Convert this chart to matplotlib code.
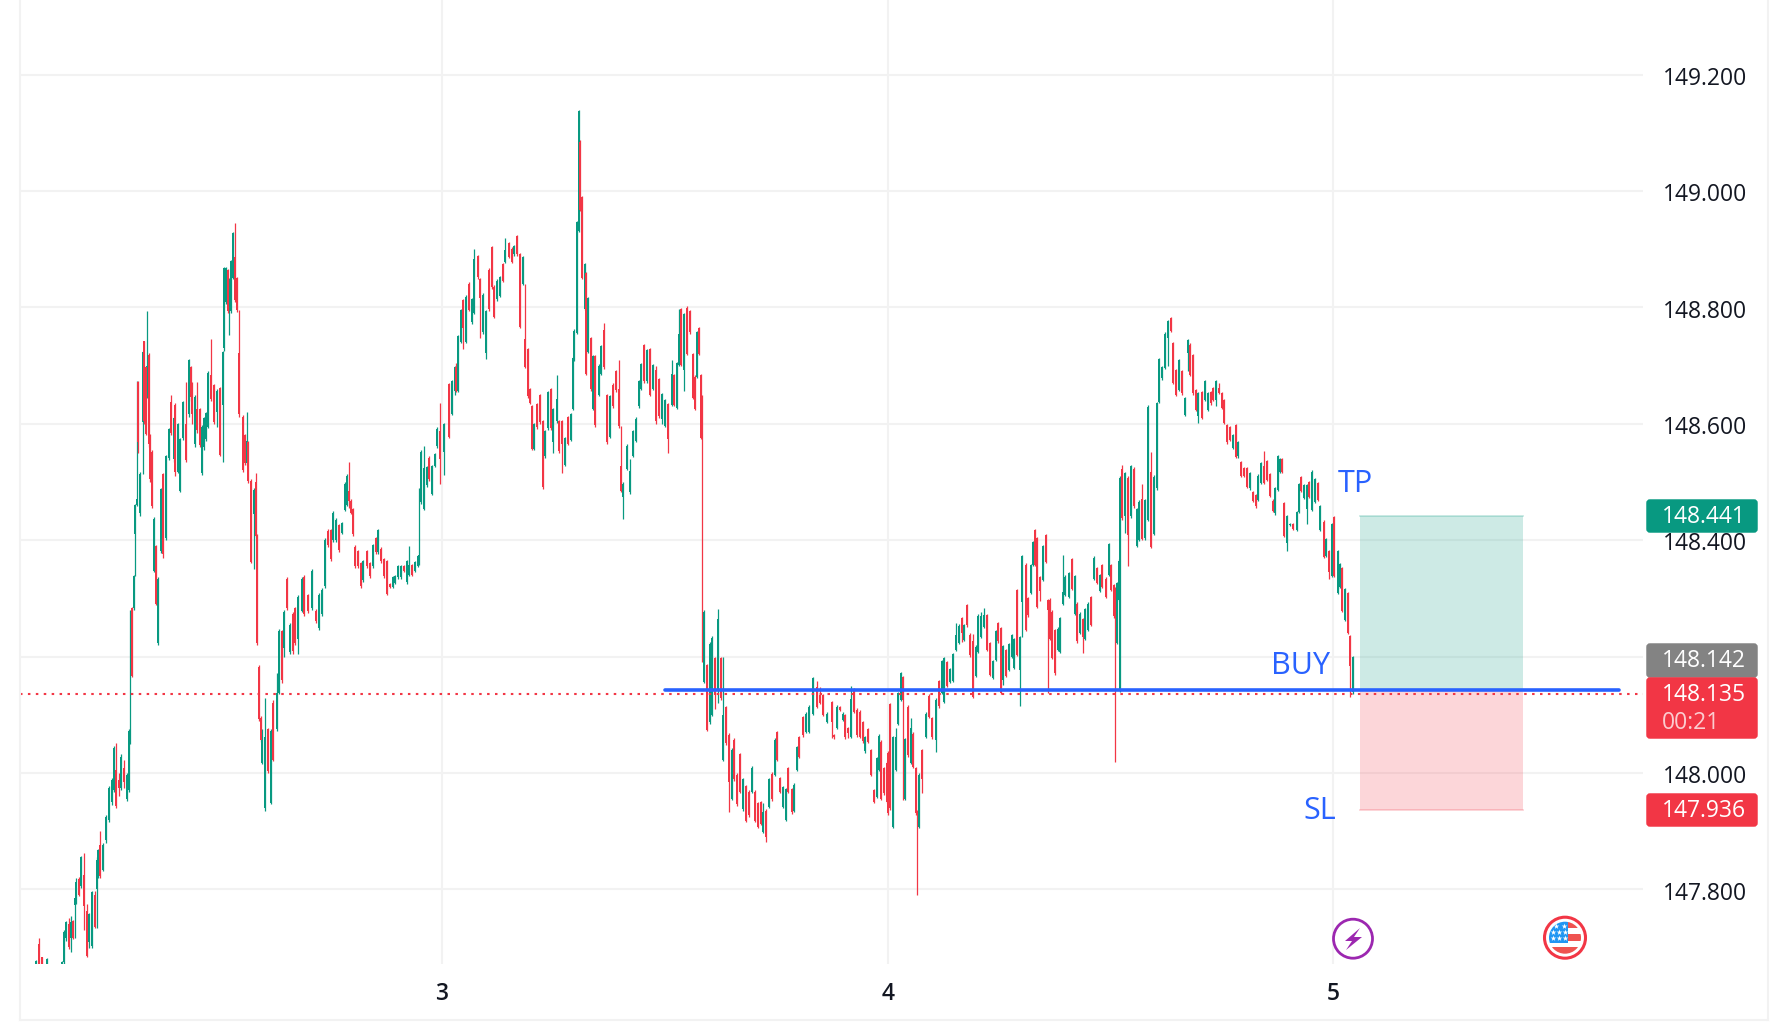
import matplotlib
matplotlib.use("Agg")
import matplotlib.pyplot as plt
import numpy as np
from matplotlib.patches import Circle, FancyBboxPatch, Polygon, Rectangle
from matplotlib.transforms import ScaledTranslation

plt.rcParams['font.family'] = ['Open Sans', 'DejaVu Sans']

# bar number on the time axis, prices are in thousandths above 147
BASE = 147.0
times = [
    36,39,42,47,53,62,64,66,69,71, 73,75,76,79,81,84,87,89,92,95,
    97,98,100,103,106,109,112,114,116,119, 121,124,127,129,130,132,134,135,137,138,
    140,143,144,146,147,149,150,152,154,156, 158,161,163,166,169,171,174,175,178,180,
    183,186,189,191,192,195,197,200,202,204, 206,208,211,214,217,220,223,224,226,228,
    229,231,233,235,237,239,243,245,247,248, 251,254,256,257,259,261,262,265,268,271,
    273,277,279,282,284,287,290,293,295,298, 302,304,308,312,316,319,322,325,328,331,
    333,336,339,342,345,347,349,351,353,355, 358,361,363,367,370,373,376,378,381,384,
    387,390,393,395,398,401,404,407,409,412, 415,418,419,421,424,427,429,432,435,437,
    440,444,449,452,455,456,458,461,463,466, 469,472,474,478,480,483,486,489,492,494,
    497,500,503,505,509,512,514,517,520,523, 525,528,530,532,534,537,540,543,545,548,
    551,553,557,559,562,565,568,571,573,574, 577,579,580,582,585,586,588,591,593,595,
    599,601,604,607,610,613,616,619,621,623, 627,630,633,636,639,641,644,647,650,653,
    656,659,662,665,668,672,674,677,679,681, 684,687,690,693,695,697,699,701,702,704,
    707,710,712,715,718,721,723,726,729,732, 734,737,740,743,746,749,752,755,758,761,
    763,766,769,772,775,777,780,783,786,788, 792,794,797,799,803,806,809,813,817,820,
    823,827,832,834,837,840,843,845,848,851, 854,857,860,863,865,868,871,874,877,879,
    881,884,887,888,890,893,896,898,901,903, 905,908,911,913,916,917,919,922,926,929,
    932,936,939,942,944,947,950,953,956,959, 962,964,967,970,973,976,978,981,984,987,
    990,993,996,998,1001,1003,1006,1009,1012,1014, 1017,1020,1022,1026,1028,1031,1033,1035,1037,1040,
    1043,1046,1048,1050,1052,1055,1058,1060,1063,1065, 1069,1072,1075,1077,1080,1083,1085,1088,1091,1094,
    1097,1100,1102,1106,1109,1111,1114,1115,1117,1119, 1120,1122,1125,1128,1131,1134,1137,1139,1142,1145,
    1148,1151,1154,1157,1159,1162,1165,1168,1171,1173, 1176,1179,1182,1185,1188,1190,1193,1196,1198,1202,
    1205,1208,1211,1213,1216,1219,1222,1224,1227,1230, 1233,1236,1238,1241,1244,1247,1250,1253,1256,1258,
    1261,1264,1267,1270,1273,1275,1278,1280,1282,1284, 1287,1290,1293,1297,1299,1301,1304,1307,1309,1312,
    1315,1318,1320,1324,1326,1329,1332,1334,1338,1340, 1342,1345,1348,1350,1353,
]
opens = [
    672,706,683,672,668,668,676,717,740,717, 746,774,778,817,806,825,763,710,702,791,
    800,823,877,834,885,919,950,971,1005,988, 975,1009,955,971,1056,1283,1283,1411,1461,1672,
    1447,1603,1742,1698,1650,1719,1580,1552,1347,1390, 1223,1381,1514,1403,1541,1638,1540,1633,1518,1484,
    1575,1599,1616,1698,1669,1565,1625,1625,1515,1560, 1574,1595,1683,1666,1621,1661,1633,1730,1809,1864,
    1800,1794,1851,1886,1850,1721,1612,1580,1533,1568, 1501,1445,1500,1407,1182,1095,1018,939,1076,949,
    1120,1076,1138,1244,1214,1334,1208,1273,1283,1230, 1279,1337,1306,1283,1279,1249,1273,1321,1415,1417,
    1400,1400,1426,1413,1452,1461,1485,1467,1454,1388, 1381,1360,1332,1381,1360,1356,1404,1379,1385,1367,
    1364,1324,1320,1326,1336,1336,1355,1328,1340,1357, 1347,1356,1360,1465,1454,1495,1542,1480,1527,1561,
    1588,1552,1668,1617,1656,1698,1656,1741,1812,1741, 1841,1775,1791,1888,1848,1758,1722,1865,1904,1835,
    1814,1820,1874,1878,1910,1901,1891,1923,1891,1840, 1745,1728,1660,1630,1557,1634,1650,1604,1545,1592,
    1660,1568,1604,1604,1604,1530,1611,1573,1626,1711, 1756,1931,2085,1989,1797,1859,1724,1748,1626,1716,
    1650,1686,1761,1649,1577,1667,1690,1660,1527,1475, 1523,1482,1545,1570,1630,1660,1735,1673,1728,1660,
    1692,1677,1609,1596,1634,1633,1684,1627,1701,1797, 1692,1799,1793,1720,1681,1681,1764,1684,1647,1157,
    1185,1087,1100,1198,1143,1198,1023,1113,1066,955, 1057,997,1033,938,978,967,967,967,948,950,
    899,935,942,999,997,1070,991,942,920,1008, 972,935,1006,1061,1096,1071,1071,1102,1148,1134,
    1134,1088,1122,1065,1077,1113,1091,1100,1077,1062, 1143,1109,1105,1088,1038,1075,1039,971,959,1006,
    1054,1008,1017,1035,1118,908,1006,1084,1125,1165, 955,1113,1017,1067,1008,934,908,1039,1062,1132,
    1094,1057,1158,1137,1122,1191,1157,1158,1211,1223, 1266,1228,1289,1237,1226,1167,1208,1234,1251,1271,
    1223,1163,1194,1258,1249,1160,1211,1177,1200,1180, 1314,1177,1294,1357,1300,1310,1357,1417,1403,1337,
    1332,1409,1297,1298,1277,1246,1211,1208,1291,1306, 1303,1367,1274,1291,1240,1264,1230,1246,1302,1334,
    1352,1313,1357,1334,1340,1357,1323,1300,1223,1297, 1143,1523,1441,1507,1441,1523,1390,1401,1471,1403,
    1435,1517,1411,1489,1638,1678,1696,1747,1781,1739, 1693,1658,1690,1615,1721,1736,1718,1658,1613,1655,
    1641,1624,1654,1661,1641,1661,1653,1641,1598,1595, 1558,1598,1544,1534,1524,1524,1489,1482,1478,1469,
    1499,1527,1536,1514,1468,1446,1487,1518,1539,1464, 1395,1426,1427,1418,1449,1509,1472,1453,1500,1452,
    1466,1498,1417,1432,1373,1381,1338,1440,1309,1320, 1352,1263,1309,1235,1140,
]
closes = [
    677,668,660,680,660,676,727,744,701,744, 717,785,813,791,855,772,686,757,795,736,
    851,868,823,877,924,975,988,1043,943,975, 1028,984,996,1073,1073,1167,1338,1461,1470,1569,
    1514,1723,1605,1582,1700,1565,1505,1458,1437,1291, 1334,1488,1377,1544,1591,1584,1610,1518,1599,1574,
    1638,1538,1710,1646,1616,1646,1590,1563,1595,1610, 1618,1687,1642,1603,1657,1546,1723,1867,1867,1794,
    1830,1879,1928,1813,1796,1616,1521,1533,1570,1501, 1362,1486,1407,1223,1093,1056,1072,1062,1003,1073,
    1022,1138,1244,1159,1277,1283,1255,1210,1223,1302, 1333,1273,1279,1347,1261,1306,1315,1400,1391,1368,
    1447,1435,1383,1430,1497,1510,1467,1447,1411,1356, 1356,1321,1364,1356,1338,1392,1379,1417,1364,1338,
    1308,1320,1336,1338,1355,1355,1347,1364,1357,1341, 1362,1373,1375,1552,1524,1525,1505,1527,1548,1591,
    1540,1599,1578,1673,1698,1656,1751,1795,1764,1818, 1795,1814,1884,1852,1816,1822,1793,1797,1835,1784,
    1846,1852,1846,1899,1887,1878,1906,1891,1767,1887, 1698,1647,1636,1557,1600,1594,1603,1491,1587,1654,
    1593,1626,1643,1553,1566,1576,1566,1616,1713,1760, 1946,2137,1968,1851,1874,1686,1816,1660,1716,1598,
    1700,1733,1698,1568,1647,1630,1658,1596,1485,1497, 1562,1519,1587,1609,1673,1703,1673,1727,1650,1701,
    1604,1613,1651,1641,1574,1686,1633,1704,1754,1701, 1788,1720,1758,1645,1626,1758,1720,1576,1577,1277,
    1074,1222,1232,1134,1264,1128,1100,1051,984,1040, 989,946,967,989,918,927,1008,918,908,912,
    933,890,989,955,1057,1023,967,976,972,967, 933,980,1044,1027,1065,1102,1114,1163,1114,1120,
    1100,1102,1088,1061,1113,1109,1102,1061,1069,1127, 1105,1065,1062,1055,1062,1054,997,951,1025,1064,
    956,965,951,931,939,1061,1061,1138,1171,1125, 1058,1031,1078,1011,931,931,997,989,1102,1097,
    1061,1125,1115,1192,1197,1150,1179,1204,1237,1253, 1240,1254,1254,1203,1131,1217,1270,1269,1271,1211,
    1168,1192,1244,1226,1137,1218,1167,1221,1237,1230, 1203,1234,1372,1246,1271,1357,1397,1357,1286,1313,
    1390,1363,1280,1231,1198,1171,1248,1266,1311,1337, 1343,1317,1338,1226,1274,1234,1281,1291,1254,1369,
    1326,1340,1320,1302,1393,1314,1269,1286,1326,1365, 1507,1438,1515,1409,1528,1458,1453,1466,1402,1469,
    1629,1389,1509,1635,1711,1698,1754,1777,1759,1670, 1650,1710,1653,1644,1744,1684,1653,1624,1653,1610,
    1674,1653,1635,1641,1674,1653,1627,1601,1568,1572, 1581,1543,1568,1510,1510,1492,1515,1467,1458,1511,
    1532,1499,1504,1476,1451,1489,1545,1539,1518,1408, 1442,1428,1420,1449,1497,1485,1495,1495,1475,1518,
    1505,1469,1458,1371,1402,1346,1428,1338,1381,1359, 1279,1316,1240,1184,1199,
]
highs = [
    678,716,684,682,672,677,730,746,751,754, 748,786,820,822,858,862,775,760,797,797,
    855,870,900,880,928,978,992,1046,1052,1000, 1032,1022,1000,1076,1280,1285,1340,1463,1674,1674,
    1518,1725,1742,1700,1794,1722,1582,1555,1440,1392, 1336,1490,1516,1546,1593,1649,1612,1636,1602,1576,
    1640,1672,1712,1700,1672,1650,1672,1628,1598,1612, 1620,1690,1745,1668,1660,1663,1725,1869,1869,1866,
    1850,1882,1930,1945,1852,1796,1615,1582,1620,1570, 1505,1490,1515,1410,1185,1098,1075,1128,1078,1076,
    1125,1172,1247,1246,1280,1336,1258,1276,1285,1305, 1336,1340,1308,1350,1282,1310,1318,1403,1420,1420,
    1450,1438,1428,1432,1500,1513,1535,1470,1456,1391, 1384,1362,1366,1384,1362,1394,1406,1420,1388,1370,
    1366,1326,1338,1340,1357,1357,1357,1366,1390,1359, 1364,1375,1490,1555,1562,1528,1545,1530,1550,1594,
    1635,1602,1670,1675,1700,1705,1753,1798,1815,1821, 1843,1816,1901,1890,1850,1825,1796,1868,1906,1838,
    1848,1854,1876,1919,1912,1903,1908,1925,1893,1889, 1840,1730,1662,1632,1602,1636,1652,1606,1589,1657,
    1662,1628,1683,1606,1606,1578,1613,1618,1715,1763, 1948,2140,2087,1991,1876,1861,1818,1750,1718,1718,
    1702,1735,1773,1652,1650,1670,1692,1710,1596,1500, 1565,1540,1589,1612,1675,1705,1737,1729,1730,1703,
    1700,1679,1653,1643,1636,1710,1686,1706,1797,1799, 1790,1802,1795,1722,1683,1760,1766,1686,1650,1280,
    1187,1225,1235,1200,1282,1200,1200,1115,1068,1043, 1060,1000,1035,992,980,970,1012,970,950,952,
    948,938,992,1002,1060,1072,993,978,975,1010, 975,983,1046,1063,1098,1105,1116,1165,1158,1148,
    1136,1104,1124,1067,1116,1115,1104,1102,1079,1149, 1146,1112,1108,1090,1064,1078,1042,973,1028,1067,
    1057,1010,1020,1038,1120,1063,1078,1140,1173,1167, 1060,1116,1095,1070,1010,936,1000,1042,1105,1135,
    1096,1128,1160,1195,1199,1193,1181,1206,1258,1256, 1268,1256,1291,1240,1238,1220,1273,1276,1283,1273,
    1225,1194,1246,1260,1251,1220,1213,1224,1239,1232, 1316,1236,1374,1360,1302,1359,1399,1419,1405,1339,
    1392,1411,1299,1300,1280,1248,1250,1268,1374,1340, 1346,1369,1340,1293,1276,1266,1284,1294,1304,1372,
    1354,1342,1359,1336,1396,1359,1325,1320,1328,1367, 1510,1530,1518,1510,1530,1526,1456,1469,1497,1471,
    1632,1551,1512,1638,1713,1700,1757,1779,1783,1741, 1695,1712,1692,1646,1746,1738,1720,1660,1655,1657,
    1676,1655,1656,1663,1676,1670,1655,1643,1600,1597, 1583,1600,1570,1536,1526,1526,1517,1484,1480,1513,
    1535,1554,1538,1516,1470,1491,1547,1541,1541,1466, 1444,1430,1429,1451,1499,1511,1497,1497,1502,1521,
    1507,1500,1460,1434,1404,1383,1430,1442,1383,1361, 1354,1318,1311,1237,1201,
]
lows = [
    660,660,655,655,650,650,672,712,698,693, 714,717,775,788,803,731,684,700,700,733,
    733,820,820,832,880,915,945,968,940,960, 970,975,952,968,1050,1165,1280,1338,1458,1550,
    1442,1514,1600,1580,1645,1560,1500,1455,1345,1288, 1220,1378,1370,1400,1538,1580,1535,1510,1515,1482,
    1572,1535,1612,1640,1600,1560,1585,1560,1512,1555, 1570,1592,1640,1600,1595,1544,1535,1725,1805,1790,
    1753,1790,1848,1810,1792,1612,1518,1530,1530,1498, 1360,1350,1405,1220,1090,1053,1015,935,1000,946,
    1020,1073,1135,1155,1200,1280,1205,1205,1220,1205, 1276,1270,1275,1280,1258,1245,1270,1318,1388,1365,
    1397,1397,1380,1410,1450,1458,1455,1445,1408,1353, 1353,1318,1329,1353,1335,1353,1376,1376,1361,1335,
    1305,1318,1318,1324,1334,1334,1345,1325,1338,1338, 1345,1354,1358,1463,1452,1492,1502,1478,1525,1558,
    1497,1512,1575,1615,1650,1655,1654,1738,1728,1738, 1793,1772,1788,1849,1747,1755,1712,1794,1832,1781,
    1811,1818,1843,1876,1885,1876,1889,1888,1765,1838, 1696,1645,1634,1555,1555,1591,1600,1488,1542,1590,
    1590,1550,1602,1550,1515,1528,1563,1570,1624,1708, 1754,1929,1965,1848,1795,1684,1722,1657,1624,1595,
    1648,1684,1695,1565,1575,1627,1655,1593,1483,1436, 1520,1480,1543,1568,1628,1658,1670,1670,1648,1658,
    1600,1610,1600,1594,1549,1631,1630,1625,1699,1699, 1656,1718,1755,1642,1624,1678,1718,1574,1190,1155,
    1072,1085,1098,1110,1120,1125,1020,1048,933,953, 986,943,965,935,915,924,965,915,905,910,
    897,881,940,952,995,1020,965,940,918,965, 930,933,1004,1025,1062,1069,1069,1100,1112,1118,
    1098,1086,1060,1059,1075,1107,1089,1059,1060,1060, 1103,1062,1060,1052,1035,1052,994,948,957,1004,
    954,962,948,928,936,906,1004,1082,1123,954, 953,1028,1015,1008,928,790,906,965,1060,1095,
    1058,1036,1112,1135,1120,1148,1155,1156,1209,1221, 1225,1226,1251,1200,1128,1165,1206,1232,1249,1209,
    1166,1161,1192,1224,1135,1152,1165,1175,1198,1178, 1201,1115,1234,1244,1268,1308,1355,1355,1284,1295,
    1330,1361,1137,1228,1196,1169,1209,1206,1289,1304, 1301,1315,1272,1224,1238,1206,1228,1244,1252,1332,
    1324,1311,1318,1300,1338,1312,1267,1019,1221,1295, 1140,1435,1413,1355,1439,1455,1388,1399,1400,1401,
    1433,1387,1409,1487,1636,1676,1694,1700,1757,1668, 1648,1656,1650,1613,1690,1682,1650,1622,1601,1608,
    1639,1622,1633,1639,1630,1651,1625,1599,1566,1570, 1556,1541,1542,1508,1508,1490,1487,1465,1456,1467,
    1497,1497,1502,1474,1449,1444,1485,1516,1516,1406, 1382,1424,1418,1416,1447,1483,1470,1428,1473,1450,
    1464,1467,1415,1369,1371,1334,1336,1336,1307,1318, 1277,1261,1238,1131,1135,
]
assert len(times) == len(opens) == len(closes) == len(highs) == len(lows)

price_ticks = [147.8, 148.0, 148.2, 148.4, 148.6, 148.8, 149.0, 149.2]
day_ticks = [442, 888, 1333]
day_labels = ['3', '4', '5']
entry = 148.142
last_price = 148.135
target = 148.441
stop = 147.936

GREEN = '#089981'
RED = '#F23645'
BLUE = '#2962FF'
GRID = '#F2F2F2'
W, H = 1788, 1036

t = np.array(times)
o = BASE + np.array(opens) / 1000
c = BASE + np.array(closes) / 1000
hi = BASE + np.array(highs) / 1000
lo = BASE + np.array(lows) / 1000
up = c >= o

fig = plt.figure(figsize=(W / 100, H / 100), dpi=100, facecolor='white')
ax = fig.add_axes([20 / W, (H - 964) / H, (1643 - 20) / W, 964 / H])
ax.set_xlim(20, 1643)
ax.set_ylim(147.6718, 149.3282)
for s in ax.spines.values():
    s.set_visible(False)
ax.set_axisbelow(True)
ax.grid(True, color=GRID, lw=1.5)
ax.set_xticks(day_ticks, day_labels)
ax.set_yticks(price_ticks, ['%.3f' % p for p in price_ticks])
ax.yaxis.tick_right()
ax.tick_params(axis='y', length=0, pad=14, labelsize=16.5, labelcolor='#131722')
ax.tick_params(axis='x', length=0, pad=13, labelsize=16.5, labelcolor='#131722')
for lab in ax.get_xticklabels():
    lab.set_fontweight('semibold')
nudge = ScaledTranslation(0, -1.2 / 100, fig.dpi_scale_trans)
for lab in ax.get_yticklabels():
    lab.set_transform(lab.get_transform() + nudge)

# candles
for mask, col in ((up, GREEN), (~up, RED)):
    ax.vlines(t[mask], lo[mask], hi[mask], color=col, lw=0.9, zorder=2)
    ax.bar(t[mask], np.abs(c - o)[mask], bottom=np.minimum(o, c)[mask], width=2.8,
           color=col, linewidth=0, zorder=3)

# long position box and levels
ax.add_patch(Rectangle((1360, entry), 163, target - entry, facecolor=GREEN, alpha=0.2, lw=0, zorder=2))
ax.add_patch(Rectangle((1360, stop), 163, entry - stop, facecolor=RED, alpha=0.2, lw=0, zorder=2))
ax.plot([1360, 1523], [target, target], color=GREEN, alpha=0.25, lw=1.2, zorder=2)
ax.plot([1360, 1523], [stop, stop], color=RED, alpha=0.25, lw=1.2, zorder=2)
ax.axhline(last_price, color=RED, lw=1.5, ls=(0, (1.2, 2.6)), zorder=4)
ax.plot([665, 1619], [entry, entry], color=BLUE, lw=2.6, solid_capstyle='round', zorder=5)

ax.text(1355, 148.497, 'TP', color=BLUE, fontsize=22, ha='center', va='center', zorder=6)
ax.text(1301, 148.183, 'BUY', color=BLUE, fontsize=22, ha='center', va='center', zorder=6)
ax.text(1320, 147.934, 'SL', color=BLUE, fontsize=22, ha='center', va='center', zorder=6)

# pixel overlay for the price tags, frame and event icons
ov = fig.add_axes([0, 0, 1, 1], facecolor='none')
ov.set_xlim(0, W)
ov.set_ylim(H, 0)
ov.axis('off')
ov.plot([20, 20], [0, 1020], color=GRID, lw=1.5)
ov.plot([20, 1768], [1020, 1020], color=GRID, lw=1.5)
ov.plot([1768, 1768], [0, 1020], color=GRID, lw=1.5)


def tag(y0, y1, col):
    ov.add_patch(FancyBboxPatch((1648, y0 + 2), 108, y1 - y0 - 4, boxstyle='round,pad=0,rounding_size=2',
                                mutation_aspect=1, facecolor=col, edgecolor=col, lw=2.5))


tag(499, 533, GREEN)
tag(643, 678, '#838383')
tag(677, 739, RED)
tag(793, 827, RED)
tags = [(517, '148.441'), (661, '148.142'), (695, '148.135'), (811, '147.936')]
for y, txt in tags:
    ov.text(1704, y, txt, color='white', fontsize=16.5, ha='center', va='center')
ov.text(1662, 723, '00:21', color='white', alpha=0.75, fontsize=16.5, ha='left', va='center')

# lightning icon
ov.add_patch(Circle((1353, 938.7), 19.5, facecolor='white', edgecolor='#9C27B0', lw=2))
ov.add_patch(Polygon([(1360, 928), (1345, 941), (1352, 941), (1346, 950), (1362, 937), (1354, 937)],
                     facecolor='#9C27B0', edgecolor='none'))

# flag icon
ring = Circle((1565, 937.7), 20.5, facecolor='white', edgecolor=RED, lw=2.2)
ov.add_patch(ring)
inner = Circle((1565, 937.7), 16, transform=ov.transData)
for y0, y1, x0, col in ((922, 928, 1568, '#EF5350'), (934, 941, 1568, '#EF5350'), (947, 954, 1548, '#EF5350')):
    r = Rectangle((x0, y0), 1582 - x0, y1 - y0, facecolor=col, edgecolor='none')
    ov.add_patch(r)
    r.set_clip_path(inner)
blue = Rectangle((1548, 921), 20, 22, facecolor='#2196F3', edgecolor='none')
ov.add_patch(blue)
blue.set_clip_path(inner)
ov.scatter([1556, 1564, 1553, 1559, 1565, 1553, 1559, 1565], [926, 926, 932, 932, 932, 938, 938, 938],
           marker='*', s=18, color='white', linewidths=0, zorder=5)

fig.savefig('out.png', dpi=100)
